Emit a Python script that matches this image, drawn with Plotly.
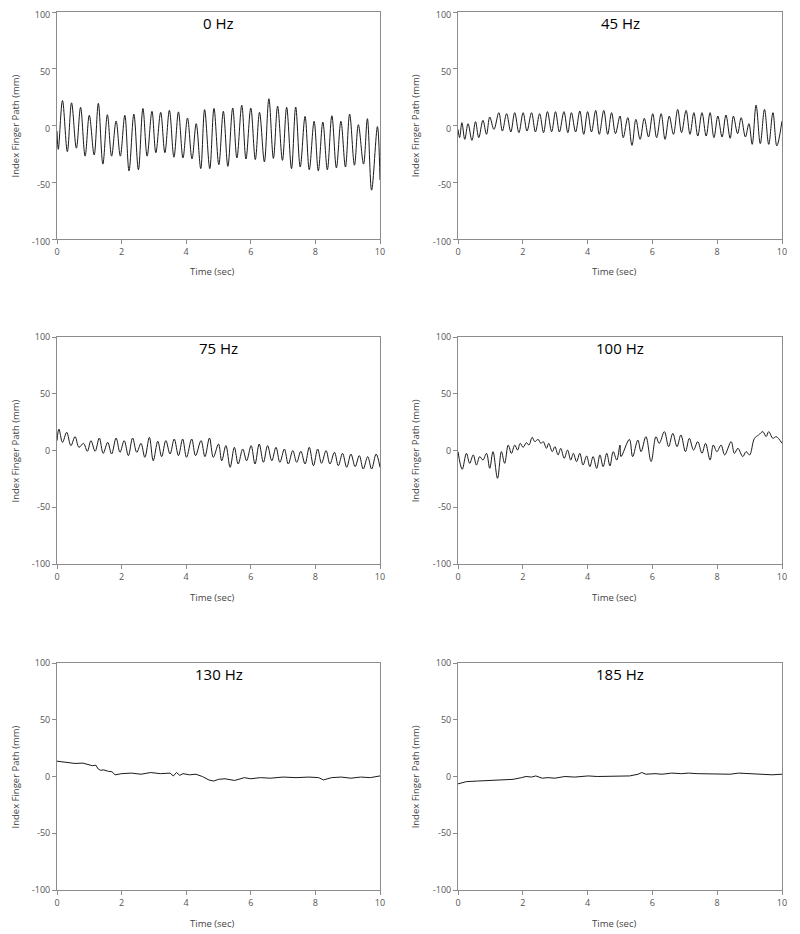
import plotly.graph_objects as go

# ---- data (time in s, finger path in mm) ----
t_0hz = [0, 0.04, 0.17, 0.32, 0.45, 0.60, 0.73, 0.87, 1.00, 1.15,
         1.28, 1.42, 1.56, 1.69, 1.83, 1.96, 2.10, 2.23, 2.38, 2.52,
         2.66, 2.79, 2.94, 3.06, 3.21, 3.34, 3.48, 3.62, 3.76, 3.90,
         4.04, 4.18, 4.31, 4.45, 4.57, 4.73, 4.86, 5.01, 5.15, 5.29,
         5.44, 5.57, 5.72, 5.85, 6.00, 6.14, 6.27, 6.42, 6.56, 6.70,
         6.83, 6.98, 7.11, 7.26, 7.39, 7.53, 7.68, 7.81, 7.96, 8.09,
         8.23, 8.37, 8.51, 8.65, 8.79, 8.93, 9.06, 9.21, 9.33, 9.49,
         9.61, 9.74, 9.92, 10.0]
v_0hz = [-5, -21, 22, -23, 20, -20, 16, -27, 9, -26,
         19.5, -34, 9.5, -27, 4, -27, 9, -40, 10, -39,
         15, -27, 12.5, -24, 11.6, -24, 13.4, -28, 12, -28.6,
         6.6, -29.5, 1.6, -38, 14, -38, 15, -34.5, 12.5, -36,
         15.4, -28.6, 17.8, -29.5, 15.4, -30, 11.6, -32, 23.6, -29,
         17, -30.7, 16, -38, 16.3, -36.6, 8, -39, 3.7, -40,
         3, -39, 8.6, -37.4, 3.7, -36.6, 10, -35, 0.7, -34,
         6, -57, -1, -48]

t_45hz = [0.0, 0.05, 0.12, 0.21, 0.31, 0.43, 0.54, 0.64, 0.77, 0.88,
          0.98, 1.11, 1.26, 1.37, 1.50, 1.63, 1.75, 1.88, 2.01, 2.13,
          2.27, 2.39, 2.52, 2.64, 2.76, 2.89, 3.01, 3.13, 3.27, 3.39,
          3.50, 3.63, 3.76, 3.88, 4.00, 4.12, 4.25, 4.36, 4.50, 4.62,
          4.74, 4.86, 5.00, 5.10, 5.24, 5.37, 5.49, 5.62, 5.75, 5.88,
          6.01, 6.13, 6.27, 6.39, 6.52, 6.65, 6.78, 6.90, 7.04, 7.16,
          7.28, 7.40, 7.53, 7.66, 7.78, 7.90, 8.02, 8.15, 8.27, 8.40,
          8.50, 8.63, 8.74, 8.87, 8.98, 9.08, 9.20, 9.33, 9.46, 9.59,
          9.72, 9.84, 10.0]
v_45hz = [-3.4, -10.7, 2.5, -12.2, 1.6, -13.1, 3.4, -10.7, 4.5, -7.8,
          7.5, -3.4, 11.3, -4.9, 10.4, -5.7, 11.3, -6.3, 11.3, -4.9,
          11.3, -5.7, 10.4, -6.3, 12.2, -5.5, 12.2, -5.7, 12.2, -6.3,
          11.3, -5.7, 12.7, -7.8, 12.2, -5.7, 13.3, -7.8, 13.3, -7.8,
          11.3, -7.2, 8.3, -10.7, 6.9, -17.5, 5.4, -12.2, 6.3, -10.1,
          10.4, -10.7, 10.4, -12.2, 8.3, -7.8, 14.2, -6.3, 13.3, -7.8,
          11.3, -9.3, 11.3, -9.3, 11.3, -10.7, 8.3, -10.1, 9.2, -11.3,
          8.3, -7.2, 6.9, -10.1, 1.6, -16.6, 18, -16, 14.2, -16.6,
          11.3, -18, 3.9]

t_75hz = [0, 0.06, 0.17, 0.30, 0.43, 0.56, 0.68, 0.82, 0.94, 1.05,
          1.18, 1.31, 1.43, 1.57, 1.69, 1.83, 1.95, 2.08, 2.21, 2.34,
          2.47, 2.60, 2.72, 2.86, 2.98, 3.12, 3.24, 3.37, 3.50, 3.63,
          3.76, 3.89, 4.01, 4.17, 4.29, 4.46, 4.58, 4.72, 4.84, 5.00,
          5.10, 5.23, 5.36, 5.49, 5.61, 5.75, 5.87, 6.01, 6.13, 6.26,
          6.39, 6.52, 6.65, 6.78, 6.90, 7.04, 7.16, 7.30, 7.42, 7.55,
          7.68, 7.81, 7.94, 8.07, 8.19, 8.33, 8.45, 8.59, 8.71, 8.84,
          8.97, 9.10, 9.23, 9.36, 9.48, 9.62, 9.74, 9.88, 10.0]
v_75hz = [8.7, 18.9, 7.2, 16, 4.3, 12.2, 2.8, 6.3, -0.7, 8.7,
          -0.7, 11, -2.5, 7.2, -3.1, 11, -1.6, 8.7, -4.5, 11,
          -1.6, 6.3, -6, 11.6, -9, 8.1, -5.4, 8.7, -3.1, 10.1,
          -4.5, 10.1, -6, 10.1, -4.5, 8.7, -5.4, 11, -6, 5.7,
          -9, 4.3, -14.8, 2.8, -11.9, 1.3, -9, 4.3, -11.9, 5.7,
          -10.4, 4.3, -9, 2.8, -10.4, 1.3, -11.9, -0.1, -10.4, -0.7,
          -11.9, 2.8, -13.4, 1.3, -11.3, -0.1, -11.9, -1.6, -13.4, -2.5,
          -14.8, -3.1, -14.2, -4.5, -16.3, -5.4, -16.3, -3.1, -14.8]

t_100hz = [0.0, 0.13, 0.26, 0.36, 0.47, 0.57, 0.67, 0.77, 0.88, 0.98,
           1.08, 1.22, 1.34, 1.44, 1.55, 1.65, 1.75, 1.84, 1.92, 2.01,
           2.11, 2.19, 2.29, 2.37, 2.47, 2.56, 2.63, 2.73, 2.80, 2.91,
           2.99, 3.09, 3.17, 3.28, 3.38, 3.48, 3.56, 3.66, 3.76, 3.86,
           3.97, 4.07, 4.17, 4.28, 4.38, 4.48, 4.59, 4.69, 4.79, 4.90,
           5.00, 5.03, 5.29, 5.39, 5.55, 5.65, 5.80, 5.96, 6.11, 6.21,
           6.37, 6.50, 6.63, 6.76, 6.88, 7.02, 7.14, 7.27, 7.40, 7.53,
           7.64, 7.78, 7.88, 7.99, 8.12, 8.23, 8.43, 8.53, 8.64, 8.79,
           8.89, 9.00, 9.15, 9.28, 9.41, 9.51, 9.59, 9.72, 9.82, 10.0]
v_100hz = [-1.0, -16.6, -2.5, -11.3, -3.9, -12.8, -5.4, -8.4, -2.5, -15.7,
           -1.0, -24.5, -1.0, -11.3, 4.8, -2.5, 4.8, 0.4, 6.3, 2.8,
           6.9, 4.8, 11.6, 7.8, 9.8, 6.3, 7.8, 1.9, 6.3, -1.0,
           3.4, -3.9, 1.9, -6.9, 0.4, -8.4, -2.5, -9.8, -2.5, -12.8,
           -4.8, -14.2, -5.4, -15.7, -3.9, -14.2, -2.5, -13.6, -1.0, -8.4,
           4.8, -5.4, 9.8, -5.4, 9.2, -1.0, 12.2, -9.8, 12.2, 6.3,
           16.6, 3.4, 15.1, 3.4, 13.7, -1.0, 10.7, 0.4, 7.8, -2.5,
           6.3, -8.4, 4.8, -1.0, 4.8, -3.9, 7.8, -2.5, 1.9, -5.4,
           -1.0, -3.9, 10.7, 13.7, 16.6, 12.2, 16.6, 10.7, 12.2, 6.3]

t_130hz = [0, 0.3, 0.56, 0.8, 0.97, 1.1, 1.2, 1.28, 1.35, 1.45,
           1.6, 1.7, 1.8, 2.0, 2.3, 2.6, 2.9, 3.2, 3.5, 3.6,
           3.7, 3.8, 3.9, 4.1, 4.3, 4.5, 4.7, 4.85, 5.0, 5.2,
           5.5, 5.8, 6.0, 6.3, 6.6, 7.0, 7.4, 7.8, 8.1, 8.25,
           8.5, 8.8, 9.1, 9.4, 9.7, 10]
v_130hz = [13.5, 12.5, 11.5, 11.8, 10.5, 9.5, 10, 6.5, 5.5, 5.8,
           4.5, 4.2, 1.5, 2.5, 3, 2, 3.5, 2.5, 3, 0.5,
           3.5, 1, 2.5, 1.5, 2, 0, -3, -4, -2.5, -2,
           -3.5, -1, -2, -1, -1.5, -0.5, -1, -0.5, -1, -3,
           -1, -0.5, -1.5, -0.5, -1, 0.5]

t_185hz = [0, 0.16, 0.26, 0.6, 0.93, 1.2, 1.44, 1.7, 1.96, 2.1,
           2.27, 2.4, 2.6, 2.78, 2.99, 3.3, 3.6, 4.02, 4.3, 4.54,
           4.8, 5.05, 5.3, 5.56, 5.67, 5.8, 6.08, 6.3, 6.6, 6.9,
           7.11, 7.4, 7.63, 7.9, 8.14, 8.4, 8.66, 8.9, 9.17, 9.4,
           9.69, 10]
v_185hz = [-6.5, -5.5, -4.5, -4, -3.5, -3, -2.5, -2.5, -1, 0,
           -0.5, 0.5, -1.5, -1, -1.5, 0, -0.5, 0.5, 0, 0,
           0.5, 0, 0.5, 2, 3.5, 2, 2.5, 2, 3, 2.5,
           3, 2.5, 2.5, 2, 2.5, 2, 3, 2.5, 2.5, 2,
           1.5, 2]

titles = ['0 Hz', '45 Hz', '75 Hz', '100 Hz', '130 Hz', '185 Hz']
x_ticks = [0, 2, 4, 6, 8, 10]
y_ticks = [-100, -50, 0, 50, 100]
y_tick_labels = ['-100', '-50', '0', '50', '100']

panels = [(t_0hz, v_0hz, 'spline'), (t_45hz, v_45hz, 'spline'),
          (t_75hz, v_75hz, 'spline'), (t_100hz, v_100hz, 'spline'),
          (t_130hz, v_130hz, 'linear'), (t_185hz, v_185hz, 'linear')]

# the page body adds an 8px margin, so the figure is 8px smaller and
# every box position is given in page pixels minus that offset
PAGE_OFF = 8
W, H = 800 - PAGE_OFF, 934 - PAGE_OFF
col_px = [(57, 380), (458, 782)]
row_px = [(12, 239), (337, 564), (663, 890)]

FONT = 'Open Sans, Noto Sans, sans-serif'
AXIS_COLOR = '#8c8c8c'

fig = go.Figure()
layout = dict(width=W, height=H, margin=dict(l=0, r=0, t=0, b=0),
              paper_bgcolor='white', plot_bgcolor='white',
              showlegend=False, font=dict(family=FONT))
annotations = []

for i, (t, v, shape) in enumerate(panels):
    n = i + 1
    suffix = '' if n == 1 else str(n)
    r, c = divmod(i, 2)
    x0, x1 = [p - PAGE_OFF for p in col_px[c]]
    y0, y1 = [p - PAGE_OFF for p in row_px[r]]

    fig.add_trace(go.Scatter(x=t, y=v, mode='lines',
                             line=dict(color='#1a1a1a', width=1, shape=shape,
                                       smoothing=1.0),
                             xaxis='x' + suffix, yaxis='y' + suffix,
                             hoverinfo='skip'))

    layout['xaxis' + suffix] = dict(
        domain=[x0 / W, x1 / W], anchor='y' + suffix, automargin=False,
        range=[0, 10], tickvals=x_ticks, ticks='outside', ticklen=4,
        tickcolor=AXIS_COLOR, showline=True, linecolor=AXIS_COLOR,
        linewidth=1, mirror=True, showgrid=False, zeroline=False,
        ticklabeloverflow='allow',
        tickfont=dict(size=9, color='#555555'))
    layout['yaxis' + suffix] = dict(
        domain=[1 - y1 / H, 1 - y0 / H], anchor='x' + suffix, automargin=False,
        range=[-100, 100], tickvals=y_ticks, ticktext=y_tick_labels,
        ticks='outside', ticklen=4,
        # top row sits close to the page edge: nudge its labels down a touch
        ticklabelshift=3 if r == 0 else 0,
        tickcolor=AXIS_COLOR, showline=True, linecolor=AXIS_COLOR,
        linewidth=1, mirror=True, showgrid=False, zeroline=False,
        ticklabeloverflow='allow',
        tickfont=dict(size=9, color='#555555'))

    xd = 'x' + suffix + ' domain'
    yd = 'y' + suffix + ' domain'
    annotations.append(dict(text=titles[i], xref=xd, yref=yd, x=0.5, y=0.95,
                            showarrow=False, xanchor='center', yanchor='middle',
                            font=dict(size=15, color='black')))
    annotations.append(dict(text='Index Finger Path (mm)', xref=xd, yref=yd,
                            x=-42 / 323, y=0.5, textangle=-90, showarrow=False,
                            xanchor='center', yanchor='middle',
                            font=dict(size=9.5, color='#444444')))
    annotations.append(dict(text='Time (sec)', xref=xd, yref=yd,
                            x=0.48, y=-33 / 227, showarrow=False,
                            xanchor='center', yanchor='middle',
                            font=dict(size=9.5, color='#444444')))

layout['annotations'] = annotations
fig.update_layout(**layout)

fig.write_html("out.html")
